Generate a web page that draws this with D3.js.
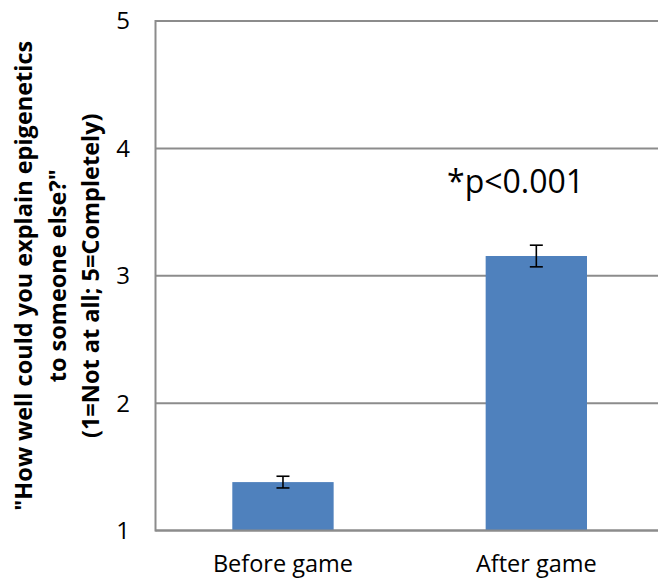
<!DOCTYPE html>
<html>
<head>
<meta charset="utf-8">
<script src="https://cdn.jsdelivr.net/npm/d3@7"></script>
<style>
  body { margin: 0; background: #fff; }
  text { font-family: "Open Sans", "Liberation Sans", sans-serif; fill: #000; }
</style>
</head>
<body>
<script>
// ---------------- data ----------------
var categories = ["Before game", "After game"];
var means = [1.38, 3.155];
var errors = [0.046, 0.085];
var yTicks = [1, 2, 3, 4, 5];
var titleLines = ["\"How well could you explain epigenetics", "to someone else?\"", "(1=Not at all; 5=Completely)"];
var sigLabel = "*p<0.001";

// ---------------- layout ----------------
var width = 658, height = 581;
var plot = {left: 155.5, right: 663, top: 21, bottom: 530.5};

var svg = d3.select("body").append("svg")
    .attr("width", width)
    .attr("height", height);

var x = d3.scaleBand()
    .domain(categories)
    .range([156.3, plot.right])
    .paddingInner(0.6)
    .paddingOuter(0.3);

var y = d3.scaleLinear()
    .domain([1, 5])
    .range([plot.bottom, plot.top]);

// gridlines
svg.append("g").selectAll("line")
    .data(yTicks)
    .enter().append("line")
        .attr("x1", plot.left)
        .attr("x2", width)
        .attr("y1", function(d) { return y(d); })
        .attr("y2", function(d) { return y(d); })
        .attr("stroke", "#8c8c8c")
        .attr("stroke-width", 2);

// y axis line
svg.append("line")
    .attr("x1", plot.left).attr("x2", plot.left)
    .attr("y1", y(5) - 1).attr("y2", y(1) + 1)
    .attr("stroke", "#8c8c8c")
    .attr("stroke-width", 2);

// y tick labels
svg.append("g").selectAll("text")
    .data(yTicks)
    .enter().append("text")
        .attr("x", 130)
        .attr("y", function(d) { return y(d); })
        .attr("dy", "0.35em")
        .attr("text-anchor", "end")
        .style("font-size", "24px")
        .text(function(d) { return d; });

// bars
svg.append("g").selectAll("rect")
    .data(means)
    .enter().append("rect")
        .attr("x", function(d, i) { return x(categories[i]); })
        .attr("width", x.bandwidth())
        .attr("y", function(d) { return y(d); })
        .attr("height", function(d) { return y(1) - y(d); })
        .attr("fill", "#4f81bd");

// redraw bottom axis over the bars
svg.append("line")
    .attr("x1", plot.left).attr("x2", width)
    .attr("y1", y(1)).attr("y2", y(1))
    .attr("stroke", "#8c8c8c")
    .attr("stroke-width", 2);

// error bars
var eb = svg.append("g").selectAll("g")
    .data(means)
    .enter().append("g")
        .attr("stroke", "#000")
        .attr("stroke-width", 1.6);
eb.append("line")
    .attr("x1", function(d, i) { return x(categories[i]) + x.bandwidth() / 2; })
    .attr("x2", function(d, i) { return x(categories[i]) + x.bandwidth() / 2; })
    .attr("y1", function(d, i) { return y(d + errors[i]); })
    .attr("y2", function(d, i) { return y(d - errors[i]); });
[1, -1].forEach(function(s) {
    eb.append("line")
        .attr("x1", function(d, i) { return x(categories[i]) + x.bandwidth() / 2 - 6.5; })
        .attr("x2", function(d, i) { return x(categories[i]) + x.bandwidth() / 2 + 6.5; })
        .attr("y1", function(d, i) { return y(d + s * errors[i]); })
        .attr("y2", function(d, i) { return y(d + s * errors[i]); });
});

// category labels
svg.append("g").selectAll("text")
    .data(categories)
    .enter().append("text")
        .attr("x", function(d) { return x(d) + x.bandwidth() / 2; })
        .attr("y", 572)
        .attr("text-anchor", "middle")
        .style("font-size", "23.5px")
        .text(function(d) { return d; });

// significance label
svg.append("text")
    .attr("x", 447)
    .attr("y", y(3.65))
    .attr("text-anchor", "start")
    .style("font-size", "32px")
    .text(sigLabel);

// y axis title (three lines)
svg.append("g").selectAll("text")
    .data(titleLines)
    .enter().append("text")
        .attr("transform", function(d, i) { return "translate(" + (32 + i * 33.5) + "," + (plot.top + plot.bottom) / 2 + ") rotate(-90)"; })
        .attr("text-anchor", "middle")
        .style("font-size", "23.5px")
        .style("font-weight", "bold")
        .text(function(d) { return d; });
</script>
</body>
</html>
